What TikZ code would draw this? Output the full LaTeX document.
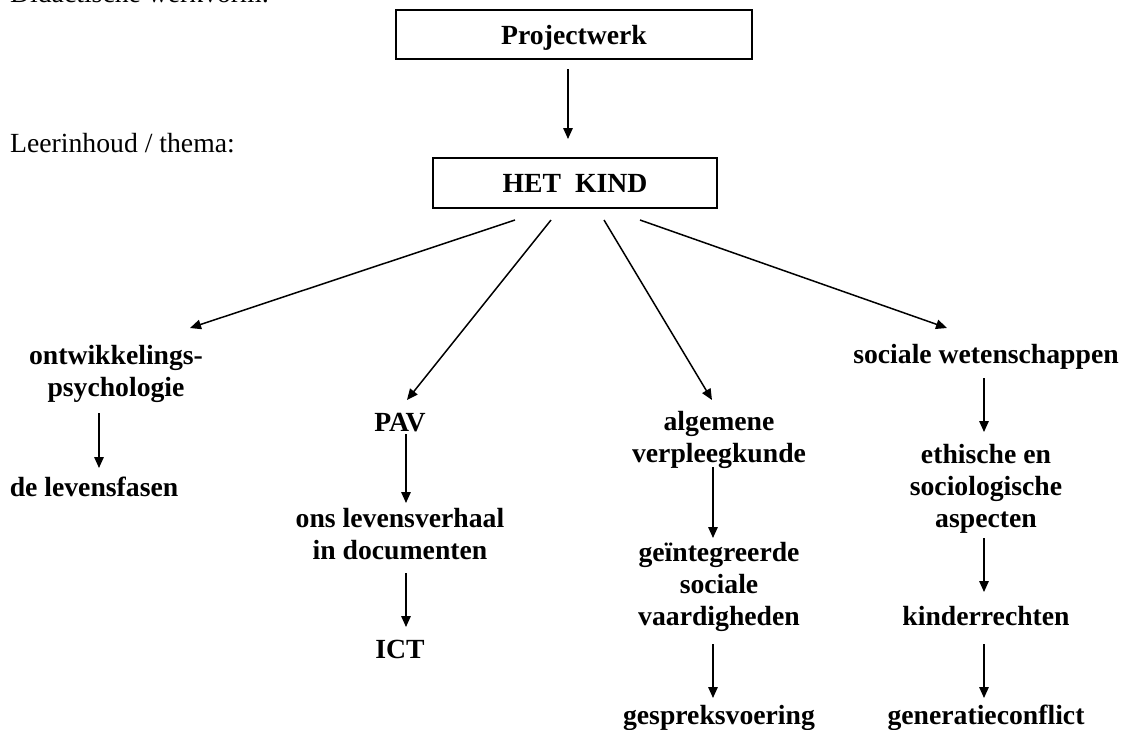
\documentclass[tikz,border=0pt]{standalone}
\usepackage{fontspec}
\setmainfont{Liberation Serif}
\usetikzlibrary{arrows.meta,calc}
\newcommand\dgfont{\fontsize{27.7}{32}\selectfont}
\begin{document}
\begin{tikzpicture}[x=1pt,y=-1pt,
  lbl/.style={font=\dgfont\bfseries, align=center, inner sep=0pt, anchor=base},
  plaintext/.style={font=\dgfont, inner sep=0pt, anchor=base west},
  boxnode/.style={draw, line width=2pt, font=\dgfont\bfseries, text height=19pt, text depth=0pt, inner sep=0pt},
  arr/.style={line width=1.5pt, -{Triangle[length=11pt,width=9.5pt]}}]
\useasboundingbox (0,0) rectangle (1125,729);
\fill[white] (0,0) rectangle (1125,729);

\node[plaintext] (didac) at (10,2.5) {Didactische werkvorm:};
\node[plaintext] (leer) at (10,152) {Leerinhoud / thema:};

\node[boxnode, minimum width=356pt, minimum height=49pt] (proj) at (574,34.5) {Projectwerk};
\node[boxnode, minimum width=284pt, minimum height=50pt] (kind) at (575,183) {HET\hspace{0.5em}KIND};

% multi-line labels: base anchor = baseline of the last line
\node[lbl] (ontw) at (116,396) {ontwikkelings-\\psychologie};
\node[lbl] (lev) at (94,496) {de levensfasen};

\node[lbl] (pav) at (400,431) {PAV};
\node[lbl] (ons) at (400,559) {ons levensverhaal\\in documenten};
\node[lbl] (ict) at (400,658) {ICT};

\node[lbl] (alg) at (719,462) {algemene\\verpleegkunde};
\node[lbl] (geint) at (719,625) {geïntegreerde\\sociale\\vaardigheden};
\node[lbl] (gesp) at (719,724) {gespreksvoering};

\node[lbl] (soc) at (986,363) {sociale wetenschappen};
\node[lbl] (eth) at (986,527) {ethische en\\sociologische\\aspecten};
\node[lbl] (kin) at (986,625) {kinderrechten};
\node[lbl] (gen) at (986,724) {generatieconflict};

\draw[arr] ($(proj.south)+(-6,9)$) -- ($(kind.north)+(-7,-18)$);

\draw[arr] ($(kind.south)+(-60,11)$) -- ($(ontw.base)+(74,-68)$);
\draw[arr] ($(kind.south)+(-24,11)$) -- ($(pav.base)+(7,-31)$);
\draw[arr] ($(kind.south)+(29,11)$) -- ($(alg.base)+(-7,-62)$);
\draw[arr] ($(kind.south)+(65,11)$) -- ($(soc.base)+(-39,-35)$);

\draw[arr] ($(ontw.base)+(-17,17)$) -- ($(lev.base)+(5,-28)$);

\draw[arr] ($(pav.base)+(6,3)$) -- ($(ons.base)+(6,-56)$);
\draw[arr] ($(ons.base)+(6,14)$) -- ($(ict.base)+(6,-31)$);

\draw[arr] ($(alg.base)+(-6,5)$) -- ($(geint.base)+(-6,-87)$);
\draw[arr] ($(geint.base)+(-6,19)$) -- ($(gesp.base)+(-6,-26)$);

\draw[arr] ($(soc.base)+(-2,15)$) -- ($(eth.base)+(-2,-95)$);
\draw[arr] ($(eth.base)+(-2,11)$) -- ($(kin.base)+(-2,-33)$);
\draw[arr] ($(kin.base)+(-2,19)$) -- ($(gen.base)+(-2,-26)$);
\end{tikzpicture}
\end{document}
